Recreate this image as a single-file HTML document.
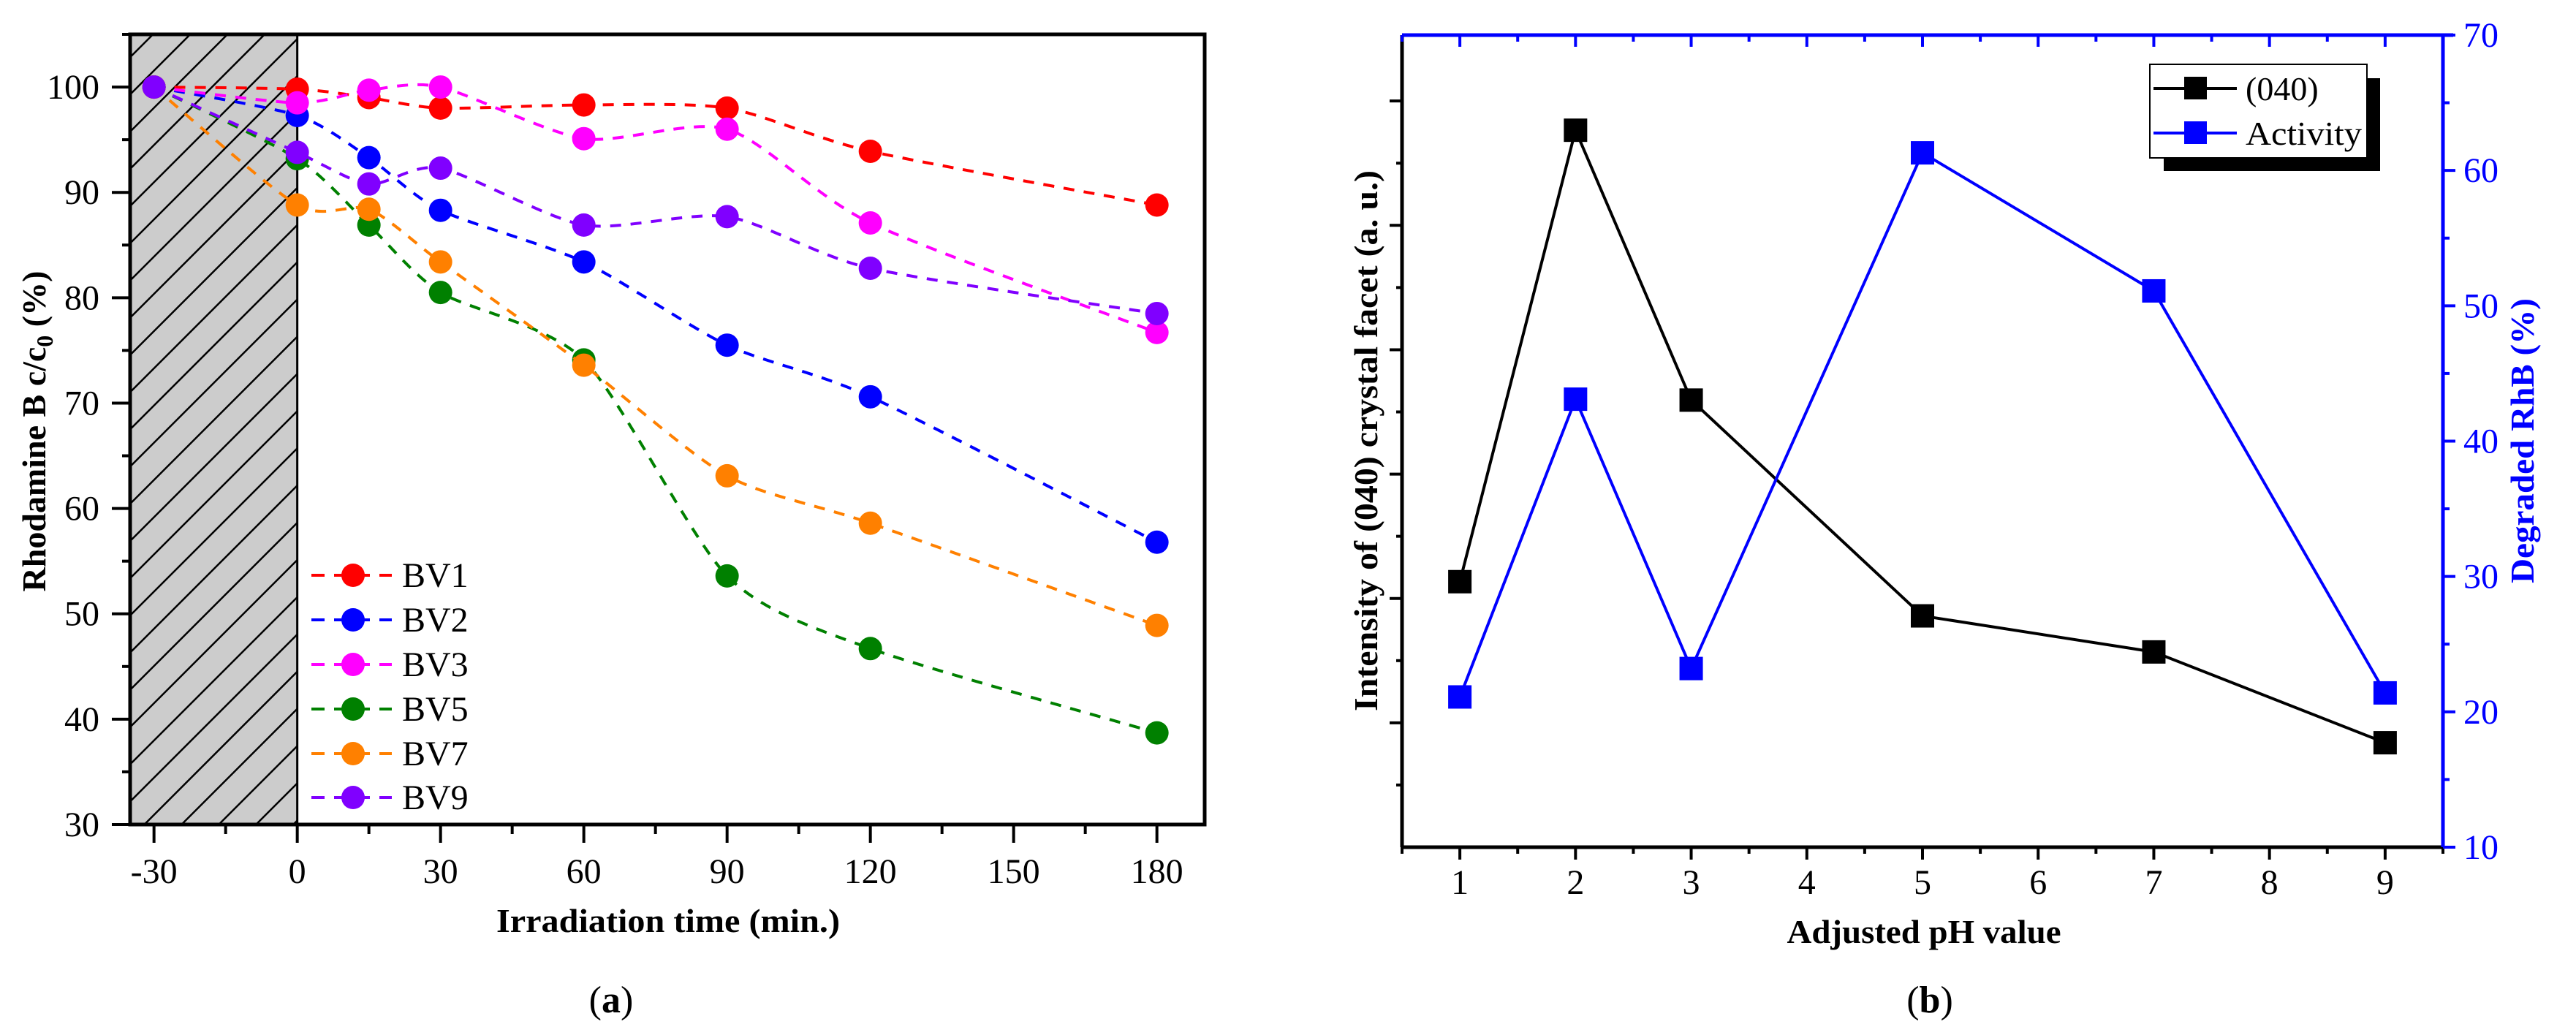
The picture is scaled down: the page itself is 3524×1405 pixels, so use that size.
<!DOCTYPE html>
<html><head><meta charset="utf-8">
<style>
html,body{margin:0;padding:0;background:#fff;}
svg{display:block;}
text{font-family:"Liberation Serif",serif;}
</style></head>
<body>
<svg id="fig" width="3524" height="1405" viewBox="0 0 3524 1405" xmlns="http://www.w3.org/2000/svg">
<defs>
<pattern id="hatch" patternUnits="userSpaceOnUse" width="36" height="36" patternTransform="rotate(45)">
<rect width="36" height="36" fill="#cccccc"/>
<line x1="0" y1="0" x2="0" y2="36" stroke="#000" stroke-width="5"/>
</pattern>
</defs>
<g id="pa"></g>
<g id="pb"></g>
</svg>
<script>
// ---------- Panel (a) data ----------
const timesA = [-30, 0, 15, 30, 60, 90, 120, 180];
const seriesNamesA = ["BV1","BV2","BV3","BV5","BV7","BV9"];
const seriesColorsA = ["#ff0000","#0000ff","#ff00ff","#008000","#ff8000","#8000ff"];
const bv1 = [100, 99.8, 99.0, 98.0, 98.3, 98.0, 93.9, 88.8];
const bv2 = [100, 97.3, 93.3, 88.3, 83.4, 75.5, 70.6, 56.8];
const bv3 = [100, 98.5, 99.7, 100.0, 95.1, 96.0, 87.1, 76.7];
const bv5 = [100, 93.2, 86.9, 80.5, 74.1, 53.6, 46.7, 38.7];
const bv7 = [100, 88.8, 88.4, 83.4, 73.6, 63.1, 58.6, 48.9];
const bv9 = [100, 93.8, 90.8, 92.3, 86.9, 87.7, 82.8, 78.5];
const xTicksA = [-30, 0, 30, 60, 90, 120, 150, 180];
const yTicksA = [30, 40, 50, 60, 70, 80, 90, 100];

// ---------- Panel (b) data ----------
const phValues = [1, 2, 3, 5, 7, 9];
const intensity040 = [4.27, 11.53, 7.19, 3.72, 3.14, 1.68];
const activity = [21.1, 43.1, 23.2, 61.3, 51.1, 21.4];
const xTicksB = [1, 2, 3, 4, 5, 6, 7, 8, 9];
const yTicksBRight = [10, 20, 30, 40, 50, 60, 70];

const NS = "http://www.w3.org/2000/svg";
function mk(parent, tag, attrs, txt){
  const e = document.createElementNS(NS, tag);
  for (const k in attrs) e.setAttribute(k, attrs[k]);
  if (txt !== undefined) e.textContent = txt;
  parent.appendChild(e);
  return e;
}
function smoothPath(pts){
  let d = "M" + pts[0][0] + "," + pts[0][1];
  for (let i = 0; i < pts.length - 1; i++){
    const p0 = pts[Math.max(0, i-1)], p1 = pts[i], p2 = pts[i+1], p3 = pts[Math.min(pts.length-1, i+2)];
    const t = 8;
    const c1x = p1[0] + (p2[0]-p0[0])/t, c1y = p1[1] + (p2[1]-p0[1])/t;
    const c2x = p2[0] - (p3[0]-p1[0])/t, c2y = p2[1] - (p3[1]-p1[1])/t;
    d += " C" + c1x + "," + c1y + " " + c2x + "," + c2y + " " + p2[0] + "," + p2[1];
  }
  return d;
}

// ===== Panel A =====
(function(){
  const g = document.getElementById("pa");
  const L = 178, R = 1648, T = 47, B = 1128;
  const xMin = -35, xMax = 190, yMin = 30, yMax = 105;
  const sx = v => L + (v - xMin) / (xMax - xMin) * (R - L);
  const sy = v => B - (v - yMin) / (yMax - yMin) * (B - T);

  const hatch = mk(g, "rect", {x: L, y: T, width: sx(0) - L, height: B - T, fill: "url(#hatch)", stroke: "#000", "stroke-width": 3});
  
  

  const data = [bv1, bv2, bv3, bv5, bv7, bv9];
  data.forEach((vals, si) => {
    const sg = mk(g, "g", {});
    
    
    const pts = vals.map((v, i) => [sx(timesA[i]), sy(v)]);
    mk(sg, "path", {d: smoothPath(pts), fill: "none", stroke: seriesColorsA[si], "stroke-width": 4, "stroke-dasharray": "15 13"});
    vals.forEach((v, i) => {
      const c = mk(sg, "circle", {cx: sx(timesA[i]), cy: sy(v), r: 16, fill: seriesColorsA[si]});
      
      
    });
  });

  const frame = mk(g, "rect", {x: L, y: T, width: R - L, height: B - T, fill: "none", stroke: "#000", "stroke-width": 5});
  
  

  for (let v = -30; v <= 180; v += 15){
    const major = (v % 30 === 0);
    mk(g, "line", {x1: sx(v), y1: B, x2: sx(v), y2: B + (major ? 25 : 13), stroke: "#000", "stroke-width": 4});
  }
  xTicksA.forEach(v => {
    const t = mk(g, "text", {x: sx(v), y: 1208, "font-size": 48, "text-anchor": "middle"}, String(v));
    
    
  });
  for (let v = 30; v <= 105; v += 5){
    const major = (v % 10 === 0);
    mk(g, "line", {x1: L, y1: sy(v), x2: L - (major ? 25 : 11), y2: sy(v), stroke: "#000", "stroke-width": 4});
  }
  yTicksA.forEach(v => {
    const t = mk(g, "text", {x: 136, y: sy(v) + 16, "font-size": 48, "text-anchor": "end"}, String(v));
    
    
  });

  const xt = mk(g, "text", {x: 914, y: 1275, "font-size": 46, "font-weight": "bold", "text-anchor": "middle", textLength: 470, lengthAdjust: "spacingAndGlyphs"}, "Irradiation time (min.)");
  
  
  const yt = mk(g, "text", {x: 0, y: 0, "font-size": 46, "font-weight": "bold", "text-anchor": "middle", transform: "translate(62,590) rotate(-90)"});
  
  
  yt.innerHTML = 'Rhodamine B c/c<tspan font-size="32" dy="10">0</tspan><tspan dy="-10"> (%)</tspan>';
  const cap = mk(g, "text", {x: 836, y: 1385, "font-size": 52, "text-anchor": "middle"});
  cap.innerHTML = '(<tspan font-weight="bold">a</tspan>)';
  
  

  const legRows = [787, 848, 909, 970, 1031, 1091];
  seriesNamesA.forEach((n, i) => {
    const lg = mk(g, "g", {});
    
    
    mk(lg, "line", {x1: 426, y1: legRows[i], x2: 536, y2: legRows[i], stroke: seriesColorsA[i], "stroke-width": 4, "stroke-dasharray": "18 13"});
    mk(lg, "circle", {cx: 483, cy: legRows[i], r: 16, fill: seriesColorsA[i]});
    mk(lg, "text", {x: 550, y: legRows[i] + 16, "font-size": 48}, n);
  });
})();

// ===== Panel B =====
(function(){
  const g = document.getElementById("pb");
  const L = 1918, R = 3342, T = 48, B = 1159;
  const xMin = 0.5, xMax = 9.5;
  const lMin = 0, lMax = 13.06, rMin = 10, rMax = 70;
  const sx = v => L + (v - xMin) / (xMax - xMin) * (R - L);
  const syL = v => B - (v - lMin) / (lMax - lMin) * (B - T);
  const syR = v => B - (v - rMin) / (rMax - rMin) * (B - T);

  mk(g, "line", {x1: L, y1: B, x2: R, y2: B, stroke: "#000", "stroke-width": 5});
  mk(g, "line", {x1: L, y1: T, x2: L, y2: B, stroke: "#000", "stroke-width": 5});
  const ra = mk(g, "line", {x1: R, y1: T, x2: R, y2: B, stroke: "#0000ff", "stroke-width": 5});
  
  
  mk(g, "line", {x1: L, y1: T, x2: R + 14, y2: T, stroke: "#0000ff", "stroke-width": 5});

  for (let v = 0.5; v <= 9.5; v += 0.5){
    const major = Math.abs(v - Math.round(v)) < 1e-6;
    mk(g, "line", {x1: sx(v), y1: B, x2: sx(v), y2: B + (major ? 17 : 9), stroke: "#000", "stroke-width": 4});
    mk(g, "line", {x1: sx(v), y1: T, x2: sx(v), y2: T + (major ? 16 : 9), stroke: "#0000ff", "stroke-width": 4});
  }
  xTicksB.forEach(v => {
    const t = mk(g, "text", {x: sx(v), y: 1223, "font-size": 48, "text-anchor": "middle"}, String(v));
    
    
  });
  for (let v = 1; v <= 12; v++){
    const major = (v % 2 === 0);
    mk(g, "line", {x1: L, y1: syL(v), x2: L - (major ? 17 : 8), y2: syL(v), stroke: "#000", "stroke-width": 4});
  }
  for (let v = 10; v <= 70; v += 5){
    const major = (v % 10 === 0);
    mk(g, "line", {x1: R, y1: syR(v), x2: R + (major ? 17 : 9), y2: syR(v), stroke: "#0000ff", "stroke-width": 4});
  }
  yTicksBRight.forEach(v => {
    const t = mk(g, "text", {x: 3370, y: syR(v) + 16, "font-size": 48, fill: "#0000ff"}, String(v));
    
    
  });

  const s1 = mk(g, "g", {});
  
  
  mk(s1, "polyline", {points: phValues.map((p, i) => sx(p) + "," + syL(intensity040[i])).join(" "), fill: "none", stroke: "#000", "stroke-width": 4});
  phValues.forEach((p, i) => {
    const r = mk(s1, "rect", {x: sx(p) - 16, y: syL(intensity040[i]) - 16, width: 32, height: 32, fill: "#000"});
    
    
  });
  const s2 = mk(g, "g", {});
  
  
  mk(s2, "polyline", {points: phValues.map((p, i) => sx(p) + "," + syR(activity[i])).join(" "), fill: "none", stroke: "#0000ff", "stroke-width": 4});
  phValues.forEach((p, i) => {
    const r = mk(s2, "rect", {x: sx(p) - 16, y: syR(activity[i]) - 16, width: 32, height: 32, fill: "#0000ff"});
    
    
  });

  const lg = mk(g, "g", {});
  
  
  mk(lg, "rect", {x: 2960, y: 107, width: 296, height: 127, fill: "#000"});
  mk(lg, "rect", {x: 2941, y: 88, width: 297, height: 128, fill: "#fff", stroke: "#000", "stroke-width": 2});
  const e1 = mk(lg, "g", {});
  
  
  mk(e1, "line", {x1: 2946, y1: 121, x2: 3060, y2: 121, stroke: "#000", "stroke-width": 4});
  mk(e1, "rect", {x: 2988, y: 105, width: 31, height: 31, fill: "#000"});
  mk(e1, "text", {x: 3072, y: 137, "font-size": 46}, "(040)");
  const e2 = mk(lg, "g", {});
  
  
  mk(e2, "line", {x1: 2946, y1: 182, x2: 3060, y2: 182, stroke: "#0000ff", "stroke-width": 4});
  mk(e2, "rect", {x: 2988, y: 166, width: 31, height: 31, fill: "#0000ff"});
  mk(e2, "text", {x: 3072, y: 198, "font-size": 46, textLength: 159, lengthAdjust: "spacingAndGlyphs"}, "Activity");

  const xt = mk(g, "text", {x: 2632, y: 1290, "font-size": 46, "font-weight": "bold", "text-anchor": "middle", textLength: 375, lengthAdjust: "spacingAndGlyphs"}, "Adjusted pH value");
  
  
  const yl = mk(g, "text", {x: 0, y: 0, "font-size": 46, "font-weight": "bold", "text-anchor": "middle", transform: "translate(1884,603) rotate(-90)", textLength: 740, lengthAdjust: "spacingAndGlyphs"}, "Intensity of (040) crystal facet (a. u.)");
  
  
  const yr = mk(g, "text", {x: 0, y: 0, "font-size": 46, "font-weight": "bold", "text-anchor": "middle", fill: "#0000ff", transform: "translate(3466,603) rotate(-90)", textLength: 390, lengthAdjust: "spacingAndGlyphs"}, "Degraded RhB (%)");
  
  
  const cap = mk(g, "text", {x: 2640, y: 1385, "font-size": 52, "text-anchor": "middle"});
  cap.innerHTML = '(<tspan font-weight="bold">b</tspan>)';
  
  
})();
</script>
</body></html>
